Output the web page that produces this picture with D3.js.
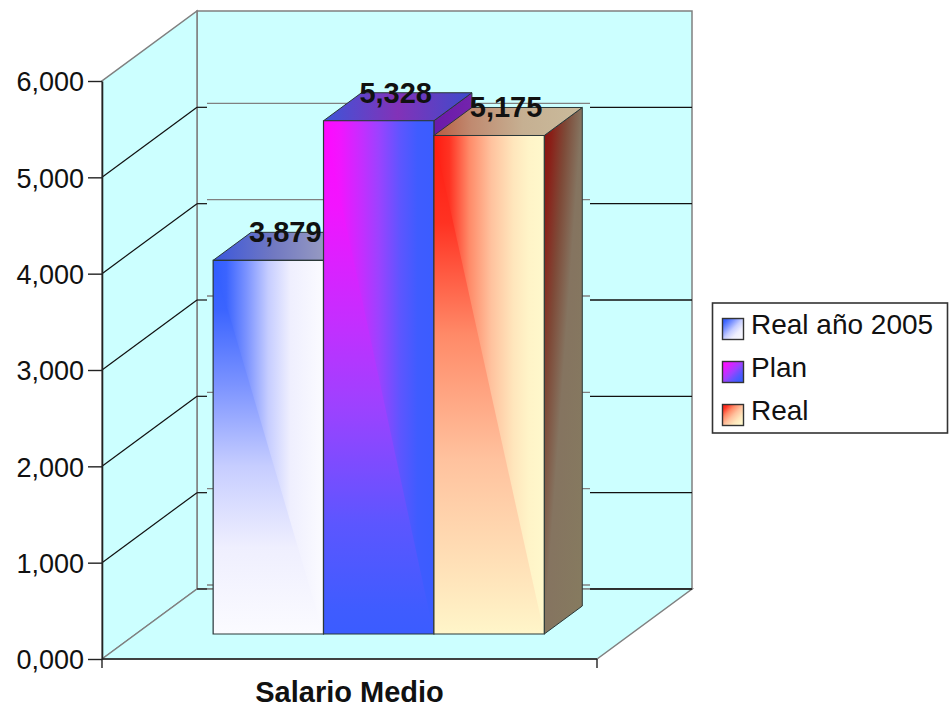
<!DOCTYPE html>
<html>
<head>
<meta charset="utf-8">
<script src="https://cdn.jsdelivr.net/npm/d3@7"></script>
<style>
  html, body { margin: 0; padding: 0; background: #ffffff; }
  svg { display: block; }
  text { font-family: "Liberation Sans", Arial, Helvetica, sans-serif; }
</style>
</head>
<body>
<script>
// ---- data ----
const categories = ["Salario Medio"];
const seriesNames = ["Real año 2005", "Plan", "Real"];
const seriesValues = [3879, 5328, 5175];
const yTickValues = [0, 1000, 2000, 3000, 4000, 5000, 6000];
const yTickLabels = ["0,000", "1,000", "2,000", "3,000", "4,000", "5,000", "6,000"];

// ---- layout ----
const W = 949, H = 710;
const plot = { left: 102, right: 597, top: 81, bottom: 659 };
const depth = { dx: 95, dy: 70 };          // offset of the back wall
const barZ = { front: 0.357, back: 0.757 }; // bar depth, as a share of the floor depth
const seriesPad = { left: 0.156, right: 0.175 };

// ---- face colours (gradient stops) ----
// front faces shade from the top-left corner: "h" fills the upper-right half,
// "v" the lower-left half; the stretch factor lengthens the vertical run a little
const faceStyles = [
  {
    front: [[0, "#2f5cff"], [0.12, "#3b64ff"], [0.3, "#7a92ff"], [0.5, "#c6cdff"], [0.7, "#efeffe"], [1, "#fbfbff"]],
    stretch: 1.1,
    top: [[0, "#3a56dc"], [0.4, "#7078c2"], [1, "#b2b2c2"]],
    side: [[0, "#3a56dc"], [1, "#8a8ab8"]]
  },
  {
    front: [[0, "#ff08ff"], [0.15, "#f214ff"], [0.35, "#c42eff"], [0.5, "#9c42ff"], [0.7, "#5c56ff"], [0.85, "#3f5cff"], [1, "#3b5cff"]],
    stretch: 1.12,
    top: [[0, "#3d55d8"], [0.5, "#8232b8"], [1, "#3c4ccc"]],
    side: [[0, "#6a1aa8"], [1, "#7c2cb2"]]
  },
  {
    front: [[0, "#ff1a10"], [0.14, "#ff3222"], [0.32, "#ff8a68"], [0.52, "#ffc29e"], [0.72, "#ffe6bc"], [0.86, "#fff4c8"], [1, "#fff8cc"]],
    stretch: 1.25,
    top: [[0, "#b85a40"], [0.25, "#c08a70"], [0.6, "#c6b092"], [1, "#cabb9c"]],
    side: [[0, "#8a1010"], [0.12, "#8a2018"], [0.3, "#7e4a38"], [0.5, "#857460"], [1, "#867b5f"]]
  }
];

const wallFill = "#ccffff";
const edgeGrey = "#808080";
const barStroke = "#2b3838";

// ---- scales ----
const y = d3.scaleLinear().domain([0, 6000]).range([plot.bottom, plot.top]);
const x = d3.scaleBand().domain(categories).range([plot.left, plot.right]);
const cat = categories[0];
const s = d3.scaleBand().domain(seriesNames)
  .range([x(cat) + x.bandwidth() * seriesPad.left, x(cat) + x.bandwidth() * (1 - seriesPad.right)]);

// oblique projection: front-plane x, value, depth share -> screen point
const proj = (xf, v, z) => [xf + z * depth.dx, y(v) - z * depth.dy];
const line = d3.line();

const svg = d3.select("body").append("svg").attr("width", W).attr("height", H);
const defs = svg.append("defs");

function gradient(id, x2, y2, stops) {
  const g = defs.append("linearGradient").attr("id", id)
    .attr("x1", 0).attr("y1", 0).attr("x2", x2).attr("y2", y2);
  stops.forEach(([o, c]) => g.append("stop").attr("offset", o).attr("stop-color", c));
}
faceStyles.forEach((f, i) => {
  gradient("fh" + i, 1, 0, f.front);
  gradient("fv" + i, 0, 1, f.front.map(([o, c]) => [o === 1 ? 1 : Math.min(0.99, o * f.stretch), c]));
  gradient("ft" + i, 1, 0, f.top);
  gradient("fs" + i, 1, 1, f.side);
  gradient("lg" + i, 1, 1, f.front);
});

// ---- walls ----
const [x0, x1] = x.range();
const vMax = y.domain()[1];
const walls = svg.append("g");
walls.append("path") // back wall
  .attr("d", line([proj(x0, 0, 1), proj(x0, vMax, 1), proj(x1, vMax, 1), proj(x1, 0, 1)]) + "Z")
  .attr("fill", wallFill).attr("stroke", edgeGrey).attr("stroke-width", 1.5);
walls.append("path") // side wall
  .attr("d", line([proj(x0, 0, 0), proj(x0, vMax, 0), proj(x0, vMax, 1), proj(x0, 0, 1)]) + "Z")
  .attr("fill", wallFill).attr("stroke", edgeGrey).attr("stroke-width", 1.5);
walls.append("path") // floor
  .attr("d", line([proj(x0, 0, 0), proj(x0, 0, 1), proj(x1, 0, 1), proj(x1, 0, 0)]) + "Z")
  .attr("fill", wallFill).attr("stroke", edgeGrey).attr("stroke-width", 1.5);

// gridlines: side wall diagonals and back wall lines
const inner = yTickValues.filter(v => v < vMax);
inner.filter(v => v > 0).forEach(v => {
  walls.append("path").attr("d", line([proj(x0, v, 0), proj(x0, v, 1)]))
    .attr("stroke", "#111").attr("stroke-width", 1.2).attr("fill", "none");
});
inner.forEach(v => {
  const [bx, by] = proj(x0, v, 1);
  const [ex] = proj(x1, v, 1);
  const innerL = bx + 10, innerR = ex - 102;
  walls.append("path").attr("d", line([[bx, by], [innerL, by]]))
    .attr("stroke", "#222").attr("stroke-width", 1.3);
  walls.append("path").attr("d", line([[innerL, by - 4], [innerR, by - 4]]))
    .attr("stroke", edgeGrey).attr("stroke-width", 1.3);
  walls.append("path").attr("d", line([[innerR, by], [ex, by]]))
    .attr("stroke", "#111").attr("stroke-width", 1.4);
});

// ---- bars ----
const fmt = d3.format(",");
const bars = svg.append("g");
seriesNames.forEach((name, i) => {
  const v = seriesValues[i];
  const xl = s(name), xr = s(name) + s.bandwidth();
  const zf = barZ.front, zb = barZ.back;
  const FL0 = proj(xl, 0, zf), FR0 = proj(xr, 0, zf), FLv = proj(xl, v, zf), FRv = proj(xr, v, zf);
  const BR0 = proj(xr, 0, zb), BLv = proj(xl, v, zb), BRv = proj(xr, v, zb);
  const g = bars.append("g");
  // right side
  g.append("path").attr("d", line([FR0, FRv, BRv, BR0]) + "Z")
    .attr("fill", `url(#fs${i})`).attr("stroke", barStroke).attr("stroke-width", 1);
  // top
  g.append("path").attr("d", line([FLv, FRv, BRv, BLv]) + "Z")
    .attr("fill", `url(#ft${i})`).attr("stroke", barStroke).attr("stroke-width", 1);
  // front: corner shading built from two triangles
  g.append("path").attr("d", line([FLv, FRv, FR0, FL0]) + "Z").attr("fill", `url(#fh${i})`);
  g.append("path").attr("d", line([FLv, FR0, FL0]) + "Z").attr("fill", `url(#fv${i})`);
  g.append("path").attr("d", line([FLv, FRv, FR0, FL0]) + "Z")
    .attr("fill", "none").attr("stroke", barStroke).attr("stroke-width", 1.2);
});

// value labels
seriesNames.forEach((name, i) => {
  const v = seriesValues[i];
  const cx = s(name) + s.bandwidth() / 2 + depth.dx * (barZ.front + barZ.back) / 2 - 2;
  const [, ty] = proj(s(name), v, barZ.front);
  svg.append("text").attr("x", cx).attr("y", ty - 18)
    .attr("text-anchor", "middle").attr("font-size", 29).attr("font-weight", "bold")
    .attr("fill", "#111").text(fmt(v));
});

// ---- axes ----
const yAxis = d3.axisLeft(y).tickValues(yTickValues)
  .tickFormat((d, i) => yTickLabels[i]).tickSize(14).tickSizeOuter(0).tickPadding(4);
const ga = svg.append("g").attr("transform", `translate(${plot.left},0)`).call(yAxis);
ga.select(".domain").attr("stroke", "#222").attr("stroke-width", 1.6);
ga.selectAll(".tick line").attr("stroke", "#222").attr("stroke-width", 1.4);
ga.selectAll(".tick text").attr("font-size", 27).attr("fill", "#111").attr("dy", "0.36em")
  .attr("font-family", "'Liberation Sans', Arial, sans-serif");

const gx = svg.append("g");
gx.append("path").attr("d", line([[x0, plot.bottom], [x1, plot.bottom]]))
  .attr("stroke", "#222").attr("stroke-width", 1.6);
[x0, x1].forEach(px => gx.append("path").attr("d", line([[px, plot.bottom], [px, plot.bottom + 9]]))
  .attr("stroke", "#222").attr("stroke-width", 1.4));
gx.append("text").attr("x", x(cat) + x.bandwidth() / 2).attr("y", 702)
  .attr("text-anchor", "middle").attr("font-size", 29).attr("font-weight", "bold")
  .attr("fill", "#111").text(cat);

// ---- legend ----
const lg = svg.append("g").attr("transform", "translate(712,303)");
lg.append("rect").attr("x", 0.5).attr("y", 0).attr("width", 235).attr("height", 130)
  .attr("fill", "#ffffff").attr("stroke", "#333").attr("stroke-width", 1.6);
seriesNames.forEach((name, i) => {
  const row = lg.append("g").attr("transform", `translate(0,${31 + i * 43})`);
  row.append("rect").attr("x", 10.5).attr("y", -15.5).attr("width", 21).attr("height", 21)
    .attr("fill", `url(#lg${i})`).attr("stroke", "#333").attr("stroke-width", 1.4);
  row.append("text").attr("x", 39).attr("y", 0).attr("font-size", 28).attr("fill", "#111").text(name);
});
</script>
</body>
</html>
